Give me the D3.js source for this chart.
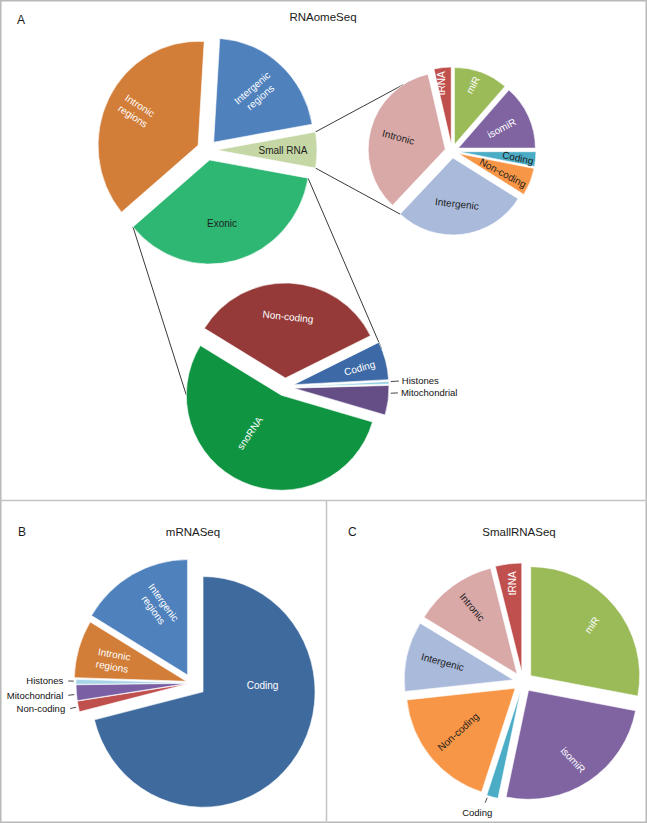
<!DOCTYPE html>
<html><head><meta charset="utf-8">
<script src="https://cdn.jsdelivr.net/npm/d3@7"></script>
<style>
body{margin:0;background:#fff}
svg{display:block}
text{font-family:"Liberation Sans",Arial,Helvetica,sans-serif}
</style>
</head><body>
<svg id="chart" width="647" height="823"></svg>
<script>
// ---------------- DATA ----------------
const titles = ["RNAomeSeq", "mRNASeq", "SmallRNASeq"];
const panelLetters = ["A", "B", "C"];

// Panel A - main pie (RNAomeSeq)
const rnaomeCategories = ["Intergenic regions", "Small RNA", "Exonic", "Intronic regions"];
const rnaomeValues = [21.25, 5.56, 36.11, 37.08];

// Panel A - Small RNA breakdown
const smallRnaCategories = ["miR", "isomiR", "Coding", "Non-coding", "Intergenic", "Intronic", "tRNA"];
const smallRnaValues = [11.4, 13.6, 3.1, 5.8, 28.1, 34.4, 3.6];

// Panel A - Exonic breakdown
const exonicCategories = ["Non-coding", "Coding", "Histones", "Mitochondrial", "snoRNA"];
const exonicValues = [33.9, 6.5, 0.4, 5.0, 54.2];

// Panel B - mRNASeq
const mrnaCategories = ["Coding", "Non-coding", "Mitochondrial", "Histones", "Intronic regions", "Intergenic regions"];
const mrnaValues = [71.1, 1.5, 2.2, 0.7, 8.1, 16.4];

// Panel C - SmallRNASeq
const smallSeqCategories = ["miR", "isomiR", "Coding", "Non-coding", "Intergenic", "Intronic", "tRNA"];
const smallSeqValues = [28.0, 25.3, 1.7, 18.3, 10.4, 12.4, 3.9];

// ---------------- STYLE / LAYOUT ----------------
const W = "#ffffff", D = "#1e1e1e";
const FONT = 10;

const mainPie = {
  categories: rnaomeCategories, values: rnaomeValues,
  cx: 207, cy: 150, r: 100, sy: 1.04, start: 3.5, explode: 10,
  colors: ["#4f81bd", "#c4d7a4", "#2eb673", "#d27d38"],
  labels: [
    {fill: W, rot: -41, frac: 0.74, wrap: true},
    {fill: D, rot: 0, frac: 0.76},
    {fill: D, rot: 0, frac: 0.72, ang: 168},
    {fill: W, rot: 33, frac: 0.80, ang: 298, wrap: true}
  ]
};

const smallPie = {
  categories: smallRnaCategories, values: smallRnaValues,
  cx: 452, cy: 151, r: 77, sy: 1, start: 0, explode: 7,
  colors: ["#9bbb59", "#8064a2", "#4bacc6", "#f79646", "#a9badb", "#d9a9a8", "#c0504d"],
  labels: [
    {fill: W, rot: -61, frac: 0.90, ang: 17.6},
    {fill: W, rot: -28, frac: 0.71, ang: 65.3},
    {fill: D, rot: 12, frac: 0.86, ang: 96},
    {fill: D, rot: 28, frac: 0.72, ang: 113.3},
    {fill: D, rot: 6, frac: 0.69, ang: 174.6},
    {fill: D, rot: 15, frac: 0.72, ang: 284.5},
    {fill: W, rot: -90, frac: 0.89, ang: 351.6}
  ]
};

const exonicPie = {
  categories: exonicCategories, values: exonicValues,
  cx: 285, cy: 387, r: 95, sy: 1, start: -58.5, explode: 9,
  colors: ["#953a38", "#3d6aa6", "#8ecfe2", "#654e86", "#0f9442"],
  labels: [
    {fill: W, rot: 6, frac: 0.74, ang: 2.5},
    {fill: W, rot: -16, frac: 0.81, ang: 75.8},
    {outside: true, ang: 87, frac: 1.2, side: "right"},
    {outside: true, ang: 93, frac: 1.19, side: "right"},
    {fill: W, rot: -56, frac: 0.61, ang: 217.3}
  ]
};

const mrnaPie = {
  categories: mrnaCategories, values: mrnaValues,
  cx: 192, cy: 683, r: 112, sy: 1.03, start: 0, explode: [14, 4, 4, 4, 6, 9],
  colors: ["#3f6a9e", "#c0504d", "#7a5fa4", "#a8d4e8", "#d27d38", "#4f81bd"],
  labels: [
    {fill: W, rot: 0, frac: 0.63, ang: 92.3},
    {outside: true, ang: 258.5, frac: 1.11, side: "left"},
    {outside: true, ang: 264.5, frac: 1.11, side: "left"},
    {outside: true, ang: 270.9, frac: 1.105, side: "left"},
    {fill: W, rot: 10, frac: 0.73, ang: 285.5, wrap: true},
    {fill: W, rot: 54, frac: 0.73, ang: 335.8, wrap: true}
  ]
};

const smallSeqPie = {
  categories: smallSeqCategories, values: smallSeqValues,
  cx: 523, cy: 682, r: 109, sy: 1, start: 0, explode: 10,
  colors: ["#9bbb59", "#8064a2", "#4bacc6", "#f79646", "#a9badb", "#d9a9a8", "#c0504d"],
  labels: [
    {fill: W, rot: -55, frac: 0.82, ang: 50.4},
    {fill: W, rot: 47, frac: 0.85, ang: 147.3},
    {outside: true, ang: 197.4, frac: 1.16, side: "below"},
    {fill: D, rot: -42, frac: 0.75, ang: 232.4},
    {fill: D, rot: 15, frac: 0.76, ang: 284},
    {fill: D, rot: 50, frac: 0.83, ang: 325.8},
    {fill: W, rot: -90, frac: 0.91, ang: 354.2}
  ]
};

// ---------------- HELPERS ----------------
const rad = d => d * Math.PI / 180;

function layoutPie(cfg) {
  const a0 = rad(cfg.start);
  const arcs = d3.pie().sort(null).value(d => d)
    .startAngle(a0).endAngle(a0 + 2 * Math.PI)(cfg.values);
  arcs.forEach((a, i) => {
    const mid = (a.startAngle + a.endAngle) / 2;
    const e = Array.isArray(cfg.explode) ? cfg.explode[i] : cfg.explode;
    a.mid = mid;
    a.ox = cfg.cx + e * Math.sin(mid);
    a.oy = cfg.cy - e * Math.cos(mid) * cfg.sy;
  });
  cfg.arcs = arcs;
  return cfg;
}
function slicePointRad(cfg, i, t, frac) {
  const a = cfg.arcs[i];
  return [a.ox + frac * cfg.r * Math.sin(t), a.oy - frac * cfg.r * Math.cos(t) * cfg.sy];
}
function slicePoint(cfg, i, angDeg, frac) { return slicePointRad(cfg, i, rad(angDeg), frac); }
function centerPoint(cfg, angDeg, frac) {
  const t = rad(angDeg);
  return [cfg.cx + frac * cfg.r * Math.sin(t), cfg.cy - frac * cfg.r * Math.cos(t) * cfg.sy];
}

const svg = d3.select("#chart");

function drawPie(cfg) {
  const g = svg.append("g");
  const arc = d3.arc().innerRadius(0).outerRadius(cfg.r);
  g.selectAll("path").data(cfg.arcs).join("path")
    .attr("d", arc)
    .attr("transform", a => `translate(${a.ox},${a.oy}) scale(1,${cfg.sy})`)
    .attr("fill", (a, i) => cfg.colors[i])
    .attr("stroke", "#fff")
    .attr("stroke-width", 0.6);

  const lg = svg.append("g");
  cfg.labels.forEach((L, i) => {
    if (!L) return;
    const name = cfg.categories[i];
    if (L.outside) {
      const a = cfg.arcs[i];
      let t = rad(L.ang);
      t = Math.max(a.startAngle, Math.min(a.endAngle, t));
      const p0 = slicePointRad(cfg, i, t, 1.02);
      const p1 = centerPoint(cfg, L.ang, L.frac);
      lg.append("line").attr("x1", p0[0]).attr("y1", p0[1]).attr("x2", p1[0]).attr("y2", p1[1])
        .attr("stroke", "#333").attr("stroke-width", 0.9);
      const tx = lg.append("text").attr("font-size", 9.5).attr("fill", "#111");
      if (L.side === "left") {
        tx.attr("x", p1[0] - 5).attr("y", p1[1]).attr("dy", "0.35em").attr("text-anchor", "end");
      } else if (L.side === "right") {
        tx.attr("x", p1[0] + 3).attr("y", p1[1]).attr("dy", "0.35em").attr("text-anchor", "start");
      } else {
        tx.attr("x", p1[0] - 8).attr("y", p1[1] + 10).attr("dy", "0.35em").attr("text-anchor", "middle");
      }
      tx.text(name);
      return;
    }
    const ang = L.ang != null ? L.ang : cfg.arcs[i].mid * 180 / Math.PI;
    const p = centerPoint(cfg, ang, L.frac);
    const lines = L.wrap ? name.split(" ") : [name];
    const tx = lg.append("text")
      .attr("transform", `translate(${p[0]},${p[1]}) rotate(${L.rot || 0})`)
      .attr("text-anchor", "middle").attr("fill", L.fill).attr("font-size", FONT);
    lines.forEach((s, k) => {
      tx.append("tspan").attr("x", 0).attr("y", (k - (lines.length - 1) / 2) * 12.5)
        .attr("dy", "0.35em").text(s);
    });
  });
}

// ---------------- BUILD ----------------
[mainPie, smallPie, exonicPie, mrnaPie, smallSeqPie].forEach(layoutPie);

// frame
svg.append("rect").attr("x", 0.75).attr("y", 0.75).attr("width", 645.5).attr("height", 821.5)
  .attr("fill", "none").attr("stroke", "#b8b8b8").attr("stroke-width", 1.5);
svg.append("line").attr("x1", 0).attr("x2", 647).attr("y1", 500.5).attr("y2", 500.5)
  .attr("stroke", "#c4c4c4").attr("stroke-width", 1.5);
svg.append("line").attr("x1", 326.5).attr("x2", 326.5).attr("y1", 500).attr("y2", 823)
  .attr("stroke", "#c4c4c4").attr("stroke-width", 1.5);

// connectors (panel A)
const iSmall = rnaomeCategories.indexOf("Small RNA");
const iExonic = rnaomeCategories.indexOf("Exonic");
const sArc = mainPie.arcs[iSmall], eArc = mainPie.arcs[iExonic];
const connectors = [
  [slicePointRad(mainPie, iSmall, sArc.startAngle, 1), slicePoint(smallPie, smallRnaCategories.indexOf("Intronic"), 327, 1)],
  [slicePointRad(mainPie, iSmall, sArc.endAngle, 1), slicePoint(smallPie, smallRnaCategories.indexOf("Intergenic"), 223, 1)],
  [slicePointRad(mainPie, iExonic, eArc.endAngle, 1), slicePoint(exonicPie, exonicCategories.indexOf("snoRNA"), 270, 1)],
  [slicePointRad(mainPie, iExonic, eArc.startAngle, 1), slicePoint(exonicPie, exonicCategories.indexOf("Coding"), 68, 1)]
];
svg.append("g").selectAll("line").data(connectors).join("line")
  .attr("x1", d => d[0][0]).attr("y1", d => d[0][1])
  .attr("x2", d => d[1][0]).attr("y2", d => d[1][1])
  .attr("stroke", "#3a3a3a").attr("stroke-width", 1);

[mainPie, smallPie, exonicPie, mrnaPie, smallSeqPie].forEach(drawPie);

// titles & panel letters
const titlePos = [[323, 17], [193, 532], [519, 532]];
const letterPos = [[17, 20], [18, 532], [348, 532]];
titles.forEach((t, i) => {
  svg.append("text").attr("x", titlePos[i][0]).attr("y", titlePos[i][1]).attr("dy", "0.35em")
    .attr("text-anchor", "middle").attr("font-size", 11.5).attr("fill", "#1a1a1a").text(t);
});
panelLetters.forEach((t, i) => {
  svg.append("text").attr("x", letterPos[i][0]).attr("y", letterPos[i][1]).attr("dy", "0.35em")
    .attr("font-size", 12).attr("fill", "#1a1a1a").text(t);
});
</script>
</body></html>
